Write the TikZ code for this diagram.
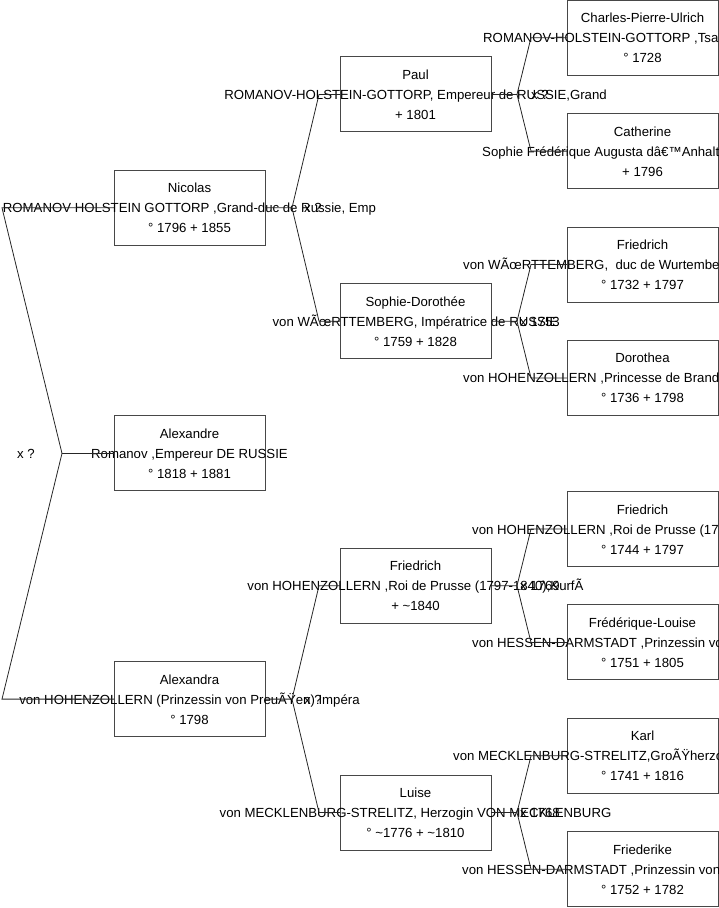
\documentclass[tikz,border=0pt]{standalone}
\usepackage{fontspec}
\setmainfont{Liberation Sans}
\usetikzlibrary{calc}
\newcommand\fsz{\fontsize{13.2bp}{20bp}\selectfont}
\tikzset{
  box/.style={draw=black!72, line width=0.9bp, minimum width=151bp, minimum height=75bp, inner sep=0pt, outer sep=0pt},
  txt/.style={inner sep=0pt, anchor=base, font=\fsz, text=black},
  conn/.style={draw=black!85, line width=0.8bp},
}
% name, x, y, title, middle, last
\newcommand\persbox[6]{%
  \node[box] (#1) at (#2,#3) {};
  \node[txt] at ($(#2,#3)+(0,-15)$) {#4};
  \node[txt] at ($(#2,#3)+(0,5)$) {#5};
  \node[txt] at ($(#2,#3)+(0,25)$) {#6};
}
% name, x, y, title, middle, last, start x of middle line
\newcommand\persboxw[7]{%
  \node[box] (#1) at (#2,#3) {};
  \node[txt] at ($(#2,#3)+(0,-15)$) {#4};
  \node[txt, anchor=base west] at ($(#7,#3)+(0,5)$) {#5};
  \node[txt] at ($(#2,#3)+(0,25)$) {#6};
}
\begin{document}
\begin{tikzpicture}[x=1bp, y=-1bp]
\useasboundingbox (0,0) rectangle (719,908);
\clip (0,0) rectangle (719,908);

% generation 1
\persbox{nic}{189.5}{207.8}{Nicolas}{ROMANOV HOLSTEIN GOTTORP ,Grand-duc de Russie, Emp}{° 1796 + 1855}
\persbox{alx}{189.5}{453.4}{Alexandre}{Romanov ,Empereur DE RUSSIE}{° 1818 + 1881}
\persbox{ala}{189.5}{699.1}{Alexandra}{von HOHENZOLLERN (Prinzessin von PreuÃŸen) Impéra}{° 1798}

% generation 2
\persbox{pau}{415.5}{94.4}{Paul}{ROMANOV-HOLSTEIN-GOTTORP, Empereur de RUSSIE,Grand}{+ 1801}
\persbox{sop}{415.5}{321.2}{Sophie-Dorothée}{von WÃœRTTEMBERG, Impératrice de RUSSIE}{° 1759 + 1828}
\persbox{fr2}{415.5}{585.7}{Friedrich}{von HOHENZOLLERN ,Roi de Prusse (1797-1840),KurfÃ}{+ \textasciitilde 1840}
\persbox{lui}{415.5}{812.5}{Luise}{von MECKLENBURG-STRELITZ, Herzogin VON MECKLENBURG}{° \textasciitilde 1776 + \textasciitilde 1810}

% generation 3
\persboxw{cha}{642.5}{37.7}{Charles-Pierre-Ulrich}{ROMANOV-HOLSTEIN-GOTTORP ,Tsar de Russie}{° 1728}{483}
\persboxw{cat}{642.5}{151.1}{Catherine}{Sophie Frédérique Augusta dâ€™Anhalt-Zerbst}{+ 1796}{482}
\persboxw{fw1}{642.5}{264.5}{Friedrich}{von WÃœRTTEMBERG,\ \ duc de Wurtemberg}{° 1732 + 1797}{463}
\persboxw{dor}{642.5}{377.9}{Dorothea}{von HOHENZOLLERN ,Princesse de Brandebourg}{° 1736 + 1798}{463}
\persboxw{fw3}{642.5}{529.0}{Friedrich}{von HOHENZOLLERN ,Roi de Prusse (1786-1797)}{° 1744 + 1797}{472}
\persboxw{frl}{642.5}{642.4}{Frédérique-Louise}{von HESSEN-DARMSTADT ,Prinzessin von Hessen}{° 1751 + 1805}{472}
\persboxw{kar}{642.5}{755.8}{Karl}{von MECKLENBURG-STRELITZ,GroÃŸherzog}{° 1741 + 1816}{453}
\persboxw{fri}{642.5}{869.2}{Friederike}{von HESSEN-DARMSTADT ,Prinzessin von Hessen}{° 1752 + 1782}{462}

% fork points
\coordinate (vA) at ($(alx.west)+(-52,0)$);
\coordinate (vAa) at ($(nic.west)+(-112,0)$);
\coordinate (vAb) at ($(ala.west)+(-112,0)$);

\coordinate (vN) at ($(nic.east)+(27,0)$);
\coordinate (vNa) at ($(pau.west)+(-21,0)$);
\coordinate (vNb) at ($(sop.west)+(-21,0)$);

\coordinate (vL) at ($(ala.east)+(27,0)$);
\coordinate (vLa) at ($(fr2.west)+(-21,0)$);
\coordinate (vLb) at ($(lui.west)+(-21,0)$);

\coordinate (vP) at ($(pau.east)+(26,0)$);
\coordinate (vPa) at ($(cha.west)+(-36,0)$);
\coordinate (vPb) at ($(cat.west)+(-36,0)$);

\coordinate (vS) at ($(sop.east)+(26,0)$);
\coordinate (vSa) at ($(fw1.west)+(-36,0)$);
\coordinate (vSb) at ($(dor.west)+(-36,0)$);

\coordinate (vF) at ($(fr2.east)+(26,0)$);
\coordinate (vFa) at ($(fw3.west)+(-36,0)$);
\coordinate (vFb) at ($(frl.west)+(-36,0)$);

\coordinate (vU) at ($(lui.east)+(26,0)$);
\coordinate (vUa) at ($(kar.west)+(-36,0)$);
\coordinate (vUb) at ($(fri.west)+(-36,0)$);

% connectors
\draw[conn] (alx.west) -- (vA) -- (vAa) -- (nic.west);
\draw[conn] (vA) -- (vAb) -- (ala.west);

\draw[conn] (nic.east) -- (vN) -- (vNa) -- (pau.west);
\draw[conn] (vN) -- (vNb) -- (sop.west);

\draw[conn] (ala.east) -- (vL) -- (vLa) -- (fr2.west);
\draw[conn] (vL) -- (vLb) -- (lui.west);

\draw[conn] (pau.east) -- (vP) -- (vPa) -- (cha.west);
\draw[conn] (vP) -- (vPb) -- (cat.west);

\draw[conn] (sop.east) -- (vS) -- (vSa) -- (fw1.west);
\draw[conn] (vS) -- (vSb) -- (dor.west);

\draw[conn] (fr2.east) -- (vF) -- (vFa) -- (fw3.west);
\draw[conn] (vF) -- (vFb) -- (frl.west);

\draw[conn] (lui.east) -- (vU) -- (vUa) -- (kar.west);
\draw[conn] (vU) -- (vUb) -- (fri.west);

% marriage labels
\node[txt] (mA) at ($(vA)+(-36,5)$) {x ?};
\node[txt] (mN) at ($(vN)+(21,5)$) {x ?};
\node[txt] (mL) at ($(vL)+(21,5)$) {x ?};
\node[txt] (mP) at ($(vP)+(23,5)$) {x ?};
\node[txt] (mS) at ($(vS)+(23,5)$) {x 1753};
\node[txt] (mF) at ($(vF)+(23,5)$) {x 1769};
\node[txt] (mU) at ($(vU)+(23,5)$) {x 1768};
\end{tikzpicture}
\end{document}
